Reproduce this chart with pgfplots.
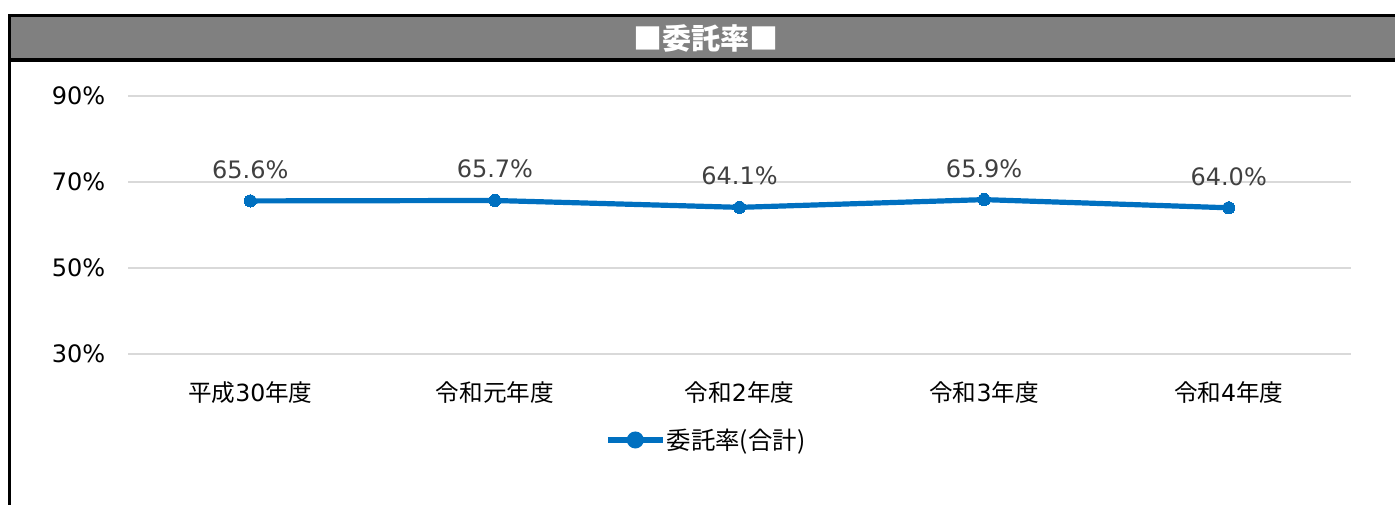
\documentclass[border=0pt]{standalone}
\usepackage{fontspec}
\setmainfont{DejaVu Sans}
\newfontfamily\cjk{Noto Sans CJK JP}
\usepackage{pgfplots}
\pgfplotsset{compat=1.18}
\definecolor{serblue}{HTML}{0070C0}
\definecolor{gridgray}{HTML}{D9D9D9}
\definecolor{labgray}{HTML}{404040}
\definecolor{headgray}{HTML}{808080}
\begin{document}
\begin{tikzpicture}
\useasboundingbox (0pt,0pt) rectangle (1046.25pt,378.75pt);
% header bar
\fill[headgray] (7.125pt,333.75pt) rectangle (1046.25pt,367.1pt);
\draw[black,line width=2.4pt] (7.125pt,367.1pt) -- (1046.25pt,367.1pt);
\draw[black,line width=2.4pt] (7.125pt,333.75pt) -- (1046.25pt,333.75pt);
\draw[black,line width=2.4pt] (7.125pt,0pt) -- (7.125pt,368.3pt);
\node[text=white,font=\cjk\bfseries\fontsize{21.8pt}{25pt}\selectfont] at (529.5pt,350.25pt) {■委託率■};
\begin{axis}[
  at={(96pt,113.25pt)}, anchor=south west,
  scale only axis, width=917.25pt, height=193.5pt,
  xmin=-0.5, xmax=4.5, ymin=30, ymax=90,
  clip=false,
  axis line style={draw=none},
  major tick length=0pt,
  ytick={30,50,70,90},
  yticklabels={30\%,50\%,70\%,90\%},
  ymajorgrids, grid style={gridgray,line width=1pt},
  xtick={0,1,2,3,4},
  xticklabels={{{\cjk 平成}30{\cjk 年度}},{\cjk 令和元年度},{{\cjk 令和}2{\cjk 年度}},{{\cjk 令和}3{\cjk 年度}},{{\cjk 令和}4{\cjk 年度}}},
  yticklabel style={font=\fontsize{18pt}{21pt}\selectfont, anchor=east, xshift=-13.5pt},
  xticklabel style={font=\fontsize{17.7pt}{21pt}\selectfont, anchor=center, yshift=-29.25pt},
  legend style={at={(0.39,-0.3333)}, anchor=west, draw=none, fill=none, inner sep=0pt,
     font=\cjk\fontsize{18.3pt}{21pt}\selectfont, nodes={inner sep=1pt}},
  legend image code/.code={
     \draw[serblue,line width=3.9pt] (0pt,0pt) -- (41.25pt,0pt);
     \fill[serblue] (20.6pt,0pt) circle (4.4pt);},
  nodes near coords,
  point meta=explicit symbolic,
  every node near coord/.append style={anchor=center, yshift=23.5pt, text=labgray,
     font=\fontsize{18pt}{21pt}\selectfont},
]
\addplot[serblue, line width=3.9pt, mark=*, mark size=4.6pt, mark options={fill=serblue, draw=serblue, line width=0pt}]
 coordinates {(0,65.6) [65.6\%] (1,65.7) [65.7\%] (2,64.1) [64.1\%] (3,65.9) [65.9\%] (4,64.0) [64.0\%]};
\addlegendentry{委託率(合計)}
\end{axis}
\end{tikzpicture}
\end{document}
